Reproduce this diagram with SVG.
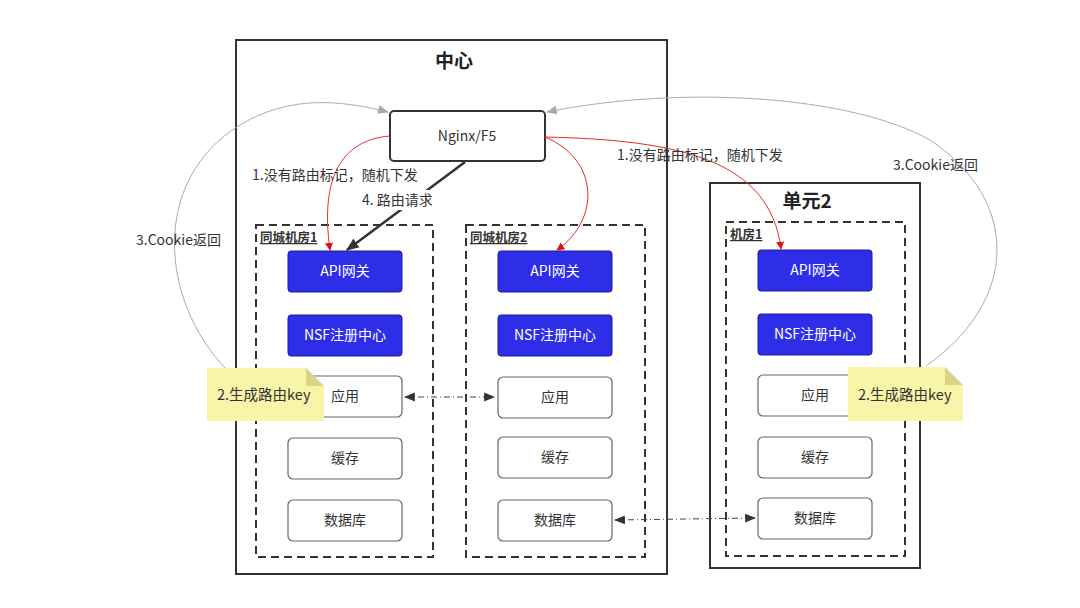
<svg xmlns="http://www.w3.org/2000/svg" width="1080" height="608" viewBox="0 0 1080 608">
<defs>
<style>
text{font-family:"Noto Sans CJK SC","Liberation Sans",sans-serif;}
.t{font-size:14px;fill:#333;text-anchor:middle;}
.lbl{font-size:14px;fill:#333;}
.title{font-size:19px;font-weight:bold;fill:#222;text-anchor:middle;}
.sub{font-size:12.5px;font-weight:bold;fill:#333;text-decoration:underline;}
.outer{fill:#fff;stroke:#333;stroke-width:2;}
.dash{fill:none;stroke:#333;stroke-width:2;stroke-dasharray:8,5;}
.blue{fill:#2e2ee8;stroke:#1c1c9a;stroke-width:1;}
.bt{font-size:14px;fill:#fff;text-anchor:middle;}
.wb{fill:#fff;stroke:#666;stroke-width:1.2;}
.note{fill:#f8f5a8;}
.red{fill:none;stroke:#e03030;stroke-width:1;}
.gray{fill:none;stroke:#aaa;stroke-width:1;}
.blk{fill:none;stroke:#333;stroke-width:2.5;}
.dd{fill:none;stroke:#444;stroke-width:1;stroke-dasharray:6,3,1,3;}
</style>
<marker id="ar" viewBox="0 0 10 10" refX="9" refY="5" markerWidth="8" markerHeight="8" orient="auto" markerUnits="userSpaceOnUse"><path d="M0,0 L10,5 L0,10 z" fill="#e01010"/></marker>
<marker id="ag" viewBox="0 0 10 10" refX="9" refY="5" markerWidth="11" markerHeight="11" orient="auto" markerUnits="userSpaceOnUse"><path d="M0,1 L10,5 L0,9 z" fill="#aaa"/></marker>
<marker id="ab" viewBox="0 0 10 10" refX="9" refY="5" markerWidth="13" markerHeight="13" orient="auto" markerUnits="userSpaceOnUse"><path d="M0,1 L10,5 L0,9 z" fill="#333"/></marker>
<marker id="ad" viewBox="0 0 10 10" refX="9" refY="5" markerWidth="11" markerHeight="11" orient="auto-start-reverse" markerUnits="userSpaceOnUse"><path d="M0,1 L10,5 L0,9 z" fill="#333"/></marker>
</defs>
<rect width="1080" height="608" fill="#fff"/>

<g id="center">
<rect class="outer" x="236" y="40" width="431" height="534"/>
<text class="title" x="454" y="68">中心</text>
</g>
<g id="unit2">
<rect class="outer" x="710" y="183" width="210" height="385"/>
<text class="title" x="807" y="208">单元2</text>
</g>
<g id="room1">
<rect class="dash" x="256" y="225" width="177" height="332"/>
<text class="sub" x="260" y="242">同城机房1</text>
</g>
<g id="room2">
<rect class="dash" x="466" y="225" width="179" height="332"/>
<text class="sub" x="470" y="242">同城机房2</text>
</g>
<g id="room3">
<rect class="dash" x="726" y="222" width="179" height="334"/>
<text class="sub" x="730" y="239">机房1</text>
</g>

<g id="nginx">
<rect x="390" y="111" width="155" height="50" rx="4" fill="#fff" stroke="#333" stroke-width="2"/>
<text class="t" x="467" y="141">Nginx/F5</text>
</g>

<g id="c1-api"><rect class="blue" x="288" y="251" width="114" height="41" rx="3"/><text class="bt" x="345" y="276">API网关</text></g>
<g id="c1-nsf"><rect class="blue" x="288" y="315" width="114" height="41" rx="3"/><text class="bt" x="345" y="340">NSF注册中心</text></g>
<g id="c1-app"><rect class="wb" x="288" y="376" width="114" height="41" rx="5"/><text class="t" x="345" y="401">应用</text></g>
<g id="c1-cache"><rect class="wb" x="288" y="438" width="114" height="41" rx="5"/><text class="t" x="345" y="463">缓存</text></g>
<g id="c1-db"><rect class="wb" x="288" y="500" width="114" height="41" rx="5"/><text class="t" x="345" y="525">数据库</text></g>

<g id="c2-api"><rect class="blue" x="498" y="251" width="114" height="41" rx="3"/><text class="bt" x="555" y="276">API网关</text></g>
<g id="c2-nsf"><rect class="blue" x="498" y="315" width="114" height="41" rx="3"/><text class="bt" x="555" y="340">NSF注册中心</text></g>
<g id="c2-app"><rect class="wb" x="498" y="377" width="114" height="41" rx="5"/><text class="t" x="555" y="402">应用</text></g>
<g id="c2-cache"><rect class="wb" x="498" y="437" width="114" height="41" rx="5"/><text class="t" x="555" y="462">缓存</text></g>
<g id="c2-db"><rect class="wb" x="498" y="500" width="114" height="41" rx="5"/><text class="t" x="555" y="525">数据库</text></g>

<g id="c3-api"><rect class="blue" x="758" y="250" width="114" height="41" rx="3"/><text class="bt" x="815" y="275">API网关</text></g>
<g id="c3-nsf"><rect class="blue" x="758" y="314" width="114" height="41" rx="3"/><text class="bt" x="815" y="339">NSF注册中心</text></g>
<g id="c3-app"><rect class="wb" x="758" y="375" width="114" height="41" rx="5"/><text class="t" x="815" y="400">应用</text></g>
<g id="c3-cache"><rect class="wb" x="758" y="437" width="114" height="41" rx="5"/><text class="t" x="815" y="462">缓存</text></g>
<g id="c3-db"><rect class="wb" x="758" y="498" width="114" height="41" rx="5"/><text class="t" x="815" y="523">数据库</text></g>

<g id="connectors">
<path class="gray" d="M226,369 C160,300 150,180 240,125 C290,95 340,100 388,112" marker-end="url(#ag)"/>
<path class="gray" d="M926,366 C1020,300 1020,200 930,140 C850,95 680,85 547,112" marker-end="url(#ag)"/>
<path class="red" d="M390,136 C340,140 320,180 330,250" marker-end="url(#ar)"/>
<path class="red" d="M545,137 C600,160 600,220 557,250" marker-end="url(#ar)"/>
<path class="red" d="M545,137 C680,140 770,160 781,249" marker-end="url(#ar)"/>
<path class="blk" d="M465,162 L347,250" marker-end="url(#ab)"/>
<path class="dd" d="M405,397 L494,397" marker-start="url(#ad)" marker-end="url(#ad)"/>
<path class="dd" d="M615,520 L755,518" marker-start="url(#ad)" marker-end="url(#ad)"/>
<rect x="360" y="190" width="78" height="20" fill="#fff"/>
<text class="lbl" x="252" y="180">1.没有路由标记，随机下发</text>
<text class="lbl" x="362" y="205">4. 路由请求</text>
<text class="lbl" x="617" y="160">1.没有路由标记，随机下发</text>
<text class="lbl" x="893" y="170">3.Cookie返回</text>
<text class="lbl" x="136" y="245">3.Cookie返回</text>
</g>

<g id="note1">
<path class="note" d="M207,368 L306,368 L324,386 L324,421 L207,421 z"/>
<path d="M306,368 L306,386 L324,386 z" fill="#d8d488"/>
<text class="lbl" x="217" y="400" style="font-size:14.5px">2.生成路由key</text>
</g>
<g id="note2">
<path class="note" d="M848,367 L945,367 L963,385 L963,421 L848,421 z"/>
<path d="M945,367 L945,385 L963,385 z" fill="#d8d488"/>
<text class="lbl" x="858" y="400" style="font-size:14.5px">2.生成路由key</text>
</g>
</svg>
